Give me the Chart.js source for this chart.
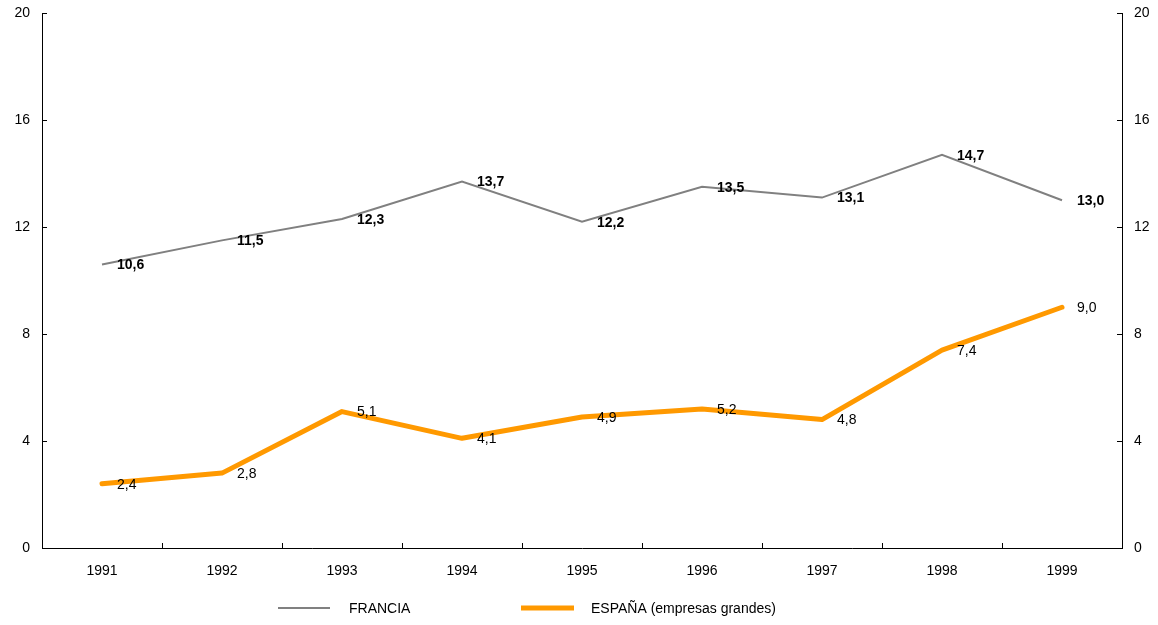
<!DOCTYPE html>
<html>
<head>
<meta charset="utf-8">
<script src="https://cdn.jsdelivr.net/npm/chart.js@4/dist/chart.umd.min.js"></script>
<style>
  html, body { margin: 0; padding: 0; background: #fff; overflow: hidden; }
  #wrap { width: 1158px; height: 625px; }
</style>
</head>
<body>
<div id="wrap"><canvas id="chart"></canvas></div>
<script>
const years = ['1991', '1992', '1993', '1994', '1995', '1996', '1997', '1998', '1999'];
const francia = [10.6, 11.5, 12.3, 13.7, 12.2, 13.5, 13.1, 14.7, 13.0];
const espana = [2.4, 2.8, 5.1, 4.1, 4.9, 5.2, 4.8, 7.4, 9.0];
const yTicks = [0, 4, 8, 12, 16, 20];

const FONT = '"Liberation Sans", Arial, sans-serif';
const fmt = v => v.toFixed(1).replace('.', ',');

// value labels to the right of each point
const pointLabels = {
  id: 'pointLabels',
  afterDatasetsDraw(chart) {
    const ctx = chart.ctx;
    ctx.save();
    ctx.fillStyle = '#000';
    ctx.textAlign = 'left';
    ctx.textBaseline = 'middle';
    chart.data.datasets.forEach((ds, i) => {
      ctx.font = (i === 0 ? 'bold ' : '') + '14px ' + FONT;
      chart.getDatasetMeta(i).data.forEach((pt, j) => {
        ctx.fillText(fmt(ds.data[j]), pt.x + 15, pt.y + 1);
      });
    });
    ctx.restore();
  }
};

// small tick marks pointing into the plot, plus the legend at the bottom
const innerTicks = {
  id: 'innerTicks',
  afterDraw(chart) {
    const ctx = chart.ctx;
    const x = chart.scales.x, y = chart.scales.y, y2 = chart.scales.y2;
    const a = chart.chartArea;
    ctx.save();
    ctx.strokeStyle = '#000';
    ctx.lineWidth = 1;
    ctx.beginPath();
    const step = x.getPixelForValue(1) - x.getPixelForValue(0);
    for (let i = 1; i < years.length; i++) {
      const px = Math.round(x.getPixelForValue(i) - step / 2) + 0.5;
      ctx.moveTo(px, a.bottom);
      ctx.lineTo(px, a.bottom - 5);
    }
    yTicks.forEach(v => {
      const py = Math.round(y.getPixelForValue(v)) + 0.5;
      ctx.moveTo(a.left, py);
      ctx.lineTo(a.left + 5, py);
      const py2 = Math.round(y2.getPixelForValue(v)) + 0.5;
      ctx.moveTo(a.right, py2);
      ctx.lineTo(a.right - 5, py2);
    });
    ctx.stroke();

    // legend
    const items = [
      { ds: chart.data.datasets[0], x0: 278, x1: 330, tx: 349 },
      { ds: chart.data.datasets[1], x0: 521, x1: 574, tx: 591 }
    ];
    ctx.font = '14px ' + FONT;
    ctx.fillStyle = '#000';
    ctx.textAlign = 'left';
    ctx.textBaseline = 'middle';
    items.forEach(it => {
      ctx.beginPath();
      ctx.strokeStyle = it.ds.borderColor;
      ctx.lineWidth = it.ds.borderWidth;
      ctx.moveTo(it.x0, 608);
      ctx.lineTo(it.x1, 608);
      ctx.stroke();
      ctx.fillText(it.ds.label, it.tx, 609);
    });
    ctx.restore();
  }
};

new Chart(document.getElementById('chart'), {
  type: 'line',
  data: {
    labels: years,
    datasets: [
      {
        label: 'FRANCIA',
        data: francia,
        borderColor: '#808080',
        borderWidth: 2,
        pointRadius: 0,
        tension: 0,
        yAxisID: 'y'
      },
      {
        label: 'ESPAÑA (empresas grandes)',
        data: espana,
        borderColor: '#FF9900',
        borderWidth: 5,
        pointRadius: 0,
        tension: 0,
        borderCapStyle: 'round',
        borderJoinStyle: 'round',
        yAxisID: 'y'
      }
    ]
  },
  options: {
    responsive: true,
    maintainAspectRatio: false,
    animation: false,
    layout: { padding: { top: 13, left: 0, right: 0, bottom: 0 } },
    plugins: {
      legend: { display: false },
      tooltip: { enabled: false }
    },
    scales: {
      x: {
        offset: true,
        grid: { display: false },
        border: { display: true, color: '#000', width: 1 },
        ticks: { color: '#000', font: { family: FONT, size: 14 }, padding: 7, maxRotation: 0 },
        afterFit(s) { s.height = 77; }
      },
      y: {
        position: 'left',
        min: 0, max: 20,
        grid: { display: false },
        border: { display: true, color: '#000', width: 1 },
        ticks: { stepSize: 4, color: '#000', font: { family: FONT, size: 14 }, padding: 4 },
        afterFit(s) { s.width = 42; }
      },
      y2: {
        position: 'right',
        min: 0, max: 20,
        grid: { display: false },
        border: { display: true, color: '#000', width: 1 },
        ticks: { stepSize: 4, color: '#000', font: { family: FONT, size: 14 }, padding: 4 },
        afterFit(s) { s.width = 36; }
      }
    }
  },
  plugins: [pointLabels, innerTicks]
});
</script>
</body>
</html>
